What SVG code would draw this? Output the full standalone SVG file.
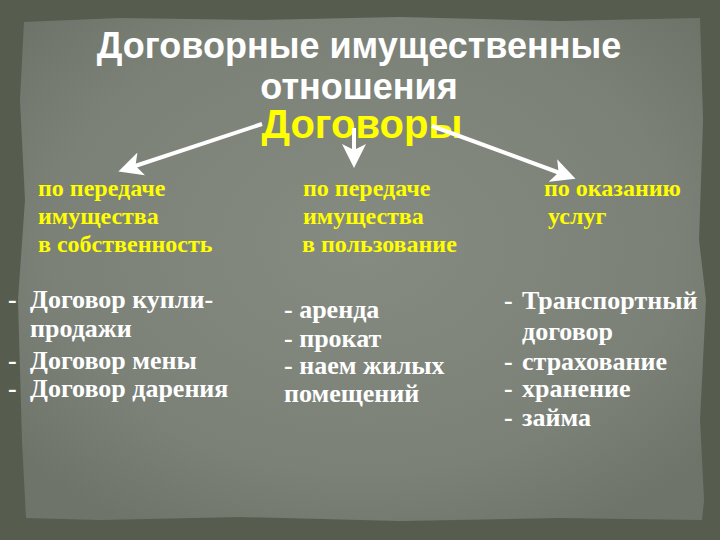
<svg xmlns="http://www.w3.org/2000/svg" width="720" height="540" viewBox="0 0 720 540">
<defs>
<radialGradient id="paper" cx="50%" cy="45%" r="65%">
<stop offset="0" stop-color="#868b82"/>
<stop offset="0.7" stop-color="#7c8178"/>
<stop offset="1" stop-color="#6f746b"/>
</radialGradient>
<marker id="ah" markerWidth="6" markerHeight="6" refX="4" refY="3" orient="auto" markerUnits="strokeWidth">
<path d="M0,0 L6,3 L0,6 L1.5,3 Z" fill="#ffffff"/>
</marker>
<style>
.title{font-family:"Liberation Sans",Arial,sans-serif;font-weight:bold;font-size:36px;fill:#ffffff;text-anchor:middle}
.main{font-family:"Liberation Sans",Arial,sans-serif;font-weight:bold;font-size:40px;fill:#ffff00;text-anchor:middle}
.cat{font-family:"Liberation Serif","Times New Roman",serif;font-weight:bold;font-size:24px;fill:#ffff00}
.item{font-family:"Liberation Serif","Times New Roman",serif;font-weight:bold;font-size:26px;fill:#ffffff}
.conn{stroke:#ffffff;stroke-width:4;fill:none;marker-end:url(#ah)}
</style>
</defs>
<rect width="720" height="540" fill="#565d4f"/>
<path d="M24,22 L120,18 L260,20 L400,17 L560,21 L700,18 L703,120 L699,240 L706,300 L700,420 L704,500 L702,520 L560,518 L400,521 L240,517 L100,520 L26,518 L22,440 L18,300 L25,200 L20,100 Z" fill="url(#paper)"/>
<g id="title">
<text class="title" x="359" y="58">Договорные имущественные</text>
<text class="title" x="359" y="99">отношения</text>
</g>
<g id="root"><text class="main" x="362" y="138">Договоры</text></g>
<g id="connectors">
<line class="conn" x1="262" y1="124" x2="126" y2="169"/>
<line class="conn" x1="354" y1="128" x2="354" y2="160"/>
<line class="conn" x1="432" y1="126" x2="568" y2="176"/>
</g>
<g id="cat1">
<text class="cat" x="38" y="196">по передаче</text>
<text class="cat" x="38" y="224">имущества</text>
<text class="cat" x="38" y="252">в собственность</text>
</g>
<g id="cat2">
<text class="cat" x="303" y="196">по передаче</text>
<text class="cat" x="303" y="224">имущества</text>
<text class="cat" x="302" y="252">в пользование</text>
</g>
<g id="cat3">
<text class="cat" x="544" y="196">по оказанию</text>
<text class="cat" x="548" y="224">услуг</text>
</g>
<g id="list1">
<text class="item" x="8" y="308">-</text><text class="item" x="30" y="308">Договор купли-</text>
<text class="item" x="30" y="337">продажи</text>
<text class="item" x="8" y="369">-</text><text class="item" x="30" y="369">Договор мены</text>
<text class="item" x="8" y="397">-</text><text class="item" x="30" y="397">Договор дарения</text>
</g>
<g id="list2">
<text class="item" x="284" y="318">- аренда</text>
<text class="item" x="284" y="347">- прокат</text>
<text class="item" x="284" y="374">- наем жилых</text>
<text class="item" x="284" y="402">помещений</text>
</g>
<g id="list3">
<text class="item" x="504" y="309">-</text><text class="item" x="522" y="309">Транспортный</text>
<text class="item" x="522" y="340">договор</text>
<text class="item" x="504" y="370">-</text><text class="item" x="522" y="370">страхование</text>
<text class="item" x="504" y="397">-</text><text class="item" x="522" y="397">хранение</text>
<text class="item" x="504" y="426">-</text><text class="item" x="522" y="426">займа</text>
</g>
</svg>
